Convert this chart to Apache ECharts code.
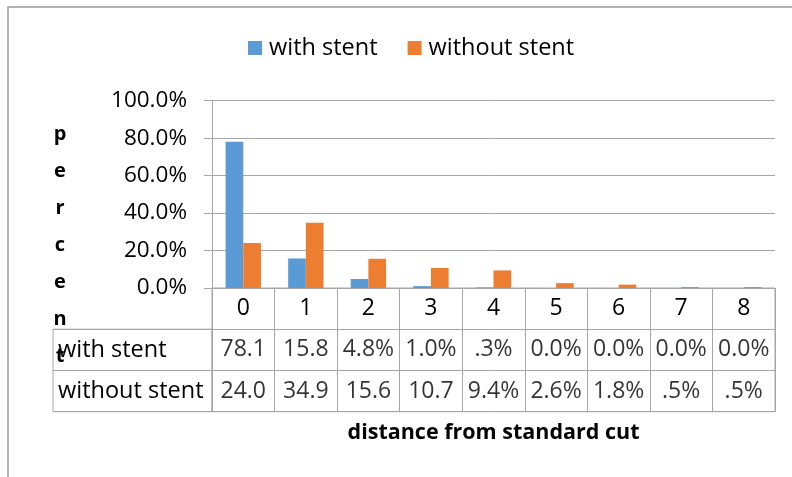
<!DOCTYPE html>
<html>
<head>
<meta charset="utf-8">
<script src="https://cdn.jsdelivr.net/npm/echarts@6/dist/echarts.min.js"></script>
<style>
  html, body { margin: 0; padding: 0; background: #fff; }
  #chart { width: 792px; height: 477px; }
</style>
</head>
<body>
<div id="chart"></div>
<script>
// Distance categories and the share of cases (percent) in each
const categories = ['0', '1', '2', '3', '4', '5', '6', '7', '8'];
const withStent = [78.1, 15.8, 4.8, 1.0, 0.3, 0.0, 0.0, 0.0, 0.0];
const withoutStent = [24.0, 34.9, 15.6, 10.7, 9.4, 2.6, 1.8, 0.5, 0.5];

// Text shown in the data table under the plot
const withStentText = ['78.1', '15.8', '4.8%', '1.0%', '.3%', '0.0%', '0.0%', '0.0%', '0.0%'];
const withoutStentText = ['24.0', '34.9', '15.6', '10.7', '9.4%', '2.6%', '1.8%', '.5%', '.5%'];
const seriesNames = ['with stent', 'without stent'];
const yTicks = [0, 20, 40, 60, 80, 100];

const FONT = 'Open Sans';
const LINE = '#A6A6A6';
const BLUE = '#5B9BD5';
const ORANGE = '#ED7D31';

const chart = echarts.init(document.getElementById('chart'), null, { renderer: 'canvas' });

// rows of the data table: 0 = header (categories), 1 = with stent, 2 = without stent
const tableRows = ['head', 'with', 'without'];
const tableCells = [];
withStentText.forEach((t, i) => tableCells.push([i, 1, t]));
withoutStentText.forEach((t, i) => tableCells.push([i, 2, t]));

const option = {
  animation: false,
  textStyle: { fontFamily: FONT },
  legend: {
    left: 243,
    top: 31,
    itemWidth: 14,
    itemHeight: 14,
    itemGap: 30,
    icon: 'rect',
    data: seriesNames,
    textStyle: { fontFamily: FONT, fontSize: 23.5, color: '#000', padding: [0, 0, 0, 2] }
  },
  graphic: [
    {
      type: 'rect',
      silent: true,
      shape: { x: 8, y: 7, width: 1000, height: 1000 },
      style: { fill: 'none', stroke: '#9A9A9A', lineWidth: 1.5 }
    },
    {
      type: 'text',
      silent: true,
      x: 60,
      y: 116,
      style: {
        text: 'p\ne\nr\nc\ne\nn\nt',
        fontFamily: FONT,
        fontWeight: 'bold',
        fontSize: 20,
        lineHeight: 37,
        textAlign: 'center',
        fill: '#000'
      }
    }
  ],
  grid: [
    { left: 212, right: 17, top: 100.7, bottom: 189 },
    { left: 212, right: 17, top: 288, bottom: 65.3, show: true, borderColor: LINE, borderWidth: 1 },
    { left: 53, right: 580, top: 329.2, bottom: 65.3, show: true, borderColor: LINE, borderWidth: 1 }
  ],
  xAxis: [
    {
      gridIndex: 0,
      type: 'category',
      data: categories,
      axisLine: { show: true, lineStyle: { color: LINE } },
      axisTick: { show: false },
      axisLabel: { fontFamily: FONT, fontSize: 23, color: '#000', margin: 9 }
    },
    {
      gridIndex: 1,
      type: 'category',
      data: categories,
      axisLine: { show: false },
      axisTick: { show: false },
      axisLabel: { show: false },
      splitLine: { show: true, lineStyle: { color: LINE } },
      name: 'distance from standard cut',
      nameLocation: 'middle',
      nameGap: 10,
      nameTextStyle: { fontFamily: FONT, fontWeight: 'bold', fontSize: 21.5, color: '#000', verticalAlign: 'top' }
    },
    {
      gridIndex: 2,
      type: 'value',
      show: false
    }
  ],
  yAxis: [
    {
      gridIndex: 0,
      type: 'value',
      min: yTicks[0],
      max: yTicks[yTicks.length - 1],
      interval: 20,
      axisLine: { show: true, lineStyle: { color: LINE } },
      axisTick: { show: true, length: 8, lineStyle: { color: LINE } },
      splitLine: { show: true, lineStyle: { color: LINE } },
      axisLabel: {
        fontFamily: FONT,
        fontSize: 22.5,
        color: '#000',
        margin: 25,
        formatter: v => v.toFixed(1) + '%'
      }
    },
    {
      gridIndex: 1,
      type: 'category',
      inverse: true,
      data: tableRows,
      axisLine: { show: false },
      axisTick: { show: false },
      axisLabel: { show: false },
      splitLine: { show: true, lineStyle: { color: LINE } }
    },
    {
      gridIndex: 2,
      type: 'category',
      inverse: true,
      data: seriesNames,
      axisLine: { show: false },
      axisTick: { show: false },
      splitLine: { show: true, lineStyle: { color: LINE } },
      axisLabel: { inside: true, margin: 5, fontFamily: FONT, fontSize: 23.5, color: '#000' }
    }
  ],
  series: [
    {
      name: seriesNames[0],
      type: 'bar',
      xAxisIndex: 0,
      yAxisIndex: 0,
      data: withStent,
      barGap: '0%',
      barCategoryGap: '43.5%',
      itemStyle: { color: BLUE }
    },
    {
      name: seriesNames[1],
      type: 'bar',
      xAxisIndex: 0,
      yAxisIndex: 0,
      data: withoutStent,
      barGap: '0%',
      barCategoryGap: '43.5%',
      itemStyle: { color: ORANGE }
    },
    {
      // table cell text, placed by the table's category axes
      type: 'scatter',
      xAxisIndex: 1,
      yAxisIndex: 1,
      symbolSize: 1,
      itemStyle: { color: 'rgba(0,0,0,0)' },
      silent: true,
      data: tableCells,
      label: {
        show: true,
        position: 'inside',
        fontFamily: FONT,
        fontSize: 23,
        color: '#000',
        formatter: p => p.data[2]
      }
    }
  ]
};

chart.setOption(option);
</script>
</body>
</html>
